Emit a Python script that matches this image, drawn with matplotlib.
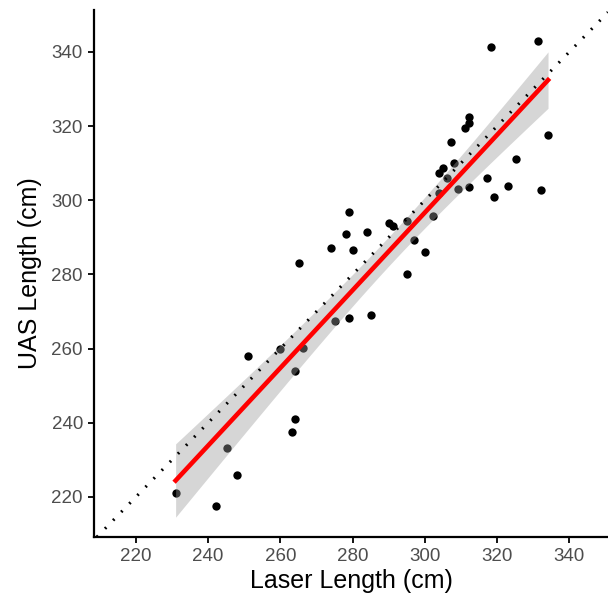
import numpy as np
import matplotlib.pyplot as plt

plt.rcParams['font.family'] = ['Liberation Sans', 'DejaVu Sans']

# Laser vs UAS lengths (cm)
laser = [231.0, 242.1, 245.1, 248.0, 251.1, 260.0, 263.1, 264.1, 264.1, 265.1,
         266.2, 274.0, 275.0, 278.1, 279.1, 279.1, 280.1, 284.1, 285.1, 290.1,
         291.1, 295.1, 295.1, 297.1, 300.1, 302.2, 303.8, 303.9, 304.9, 306.1,
         307.1, 308.1, 309.1, 311.1, 312.1, 312.1, 312.1, 317.1, 318.2, 319.1,
         323.1, 325.2, 331.2, 332.1, 334.1]
uas = [221.0, 217.5, 233.1, 226.0, 258.0, 260.0, 237.5, 241.1, 254.0, 283.0,
       260.1, 287.2, 267.4, 291.0, 296.7, 268.3, 286.7, 291.5, 269.1, 293.9,
       293.1, 294.3, 280.2, 289.3, 286.0, 295.8, 302.0, 307.4, 308.7, 306.1,
       315.6, 310.0, 302.9, 319.6, 320.8, 322.5, 303.6, 306.0, 341.4, 300.9,
       303.9, 311.0, 342.9, 302.8, 317.7]

x = np.array(laser)
y = np.array(uas)

# linear fit + 95% confidence band (like geom_smooth(method="lm"))
n = len(x)
slope, intercept = np.polyfit(x, y, 1)
resid = y - (intercept + slope * x)
s = np.sqrt(np.sum(resid**2) / (n - 2))
t_crit = 2.017  # t(0.975, df=43)
xs = np.linspace(x.min(), x.max(), 200)
ys = intercept + slope * xs
se = s * np.sqrt(1 / n + (xs - x.mean())**2 / np.sum((x - x.mean())**2))

fig = plt.figure(figsize=(6.08, 6.05), dpi=100)
ax = fig.add_axes([0.1546, 0.1124, 0.8454, 0.8711])

ax.scatter(x, y, s=36, color='black', linewidths=0, zorder=2)
ax.fill_between(xs, ys - t_crit * se, ys + t_crit * se, color='#999999', alpha=0.4,
                linewidth=0, zorder=3)
ax.axline((0, 0), slope=1, color='black', linestyle=(0, (0.6, 3.2)), linewidth=2.2,
          dash_capstyle='butt', zorder=4)
ax.plot(xs, ys, color='red', linewidth=3.3, zorder=5)

ax.set_xlim(208.4, 350.7)
ax.set_ylim(209.2, 351.3)
ax.set_xticks([220, 240, 260, 280, 300, 320, 340])
ax.set_yticks([220, 240, 260, 280, 300, 320, 340])

for side in ['top', 'right']:
    ax.spines[side].set_visible(False)
for side in ['left', 'bottom']:
    ax.spines[side].set_linewidth(1.6)
ax.tick_params(direction='out', length=4.5, width=1.3, colors='black',
               labelcolor='#4D4D4D', labelsize=13.5, pad=3.5)

ax.set_xlabel('Laser Length (cm)', fontsize=18, labelpad=3)
ax.set_ylabel('UAS Length (cm)', fontsize=18, labelpad=6.5)

fig.savefig('out.png', dpi=100)
